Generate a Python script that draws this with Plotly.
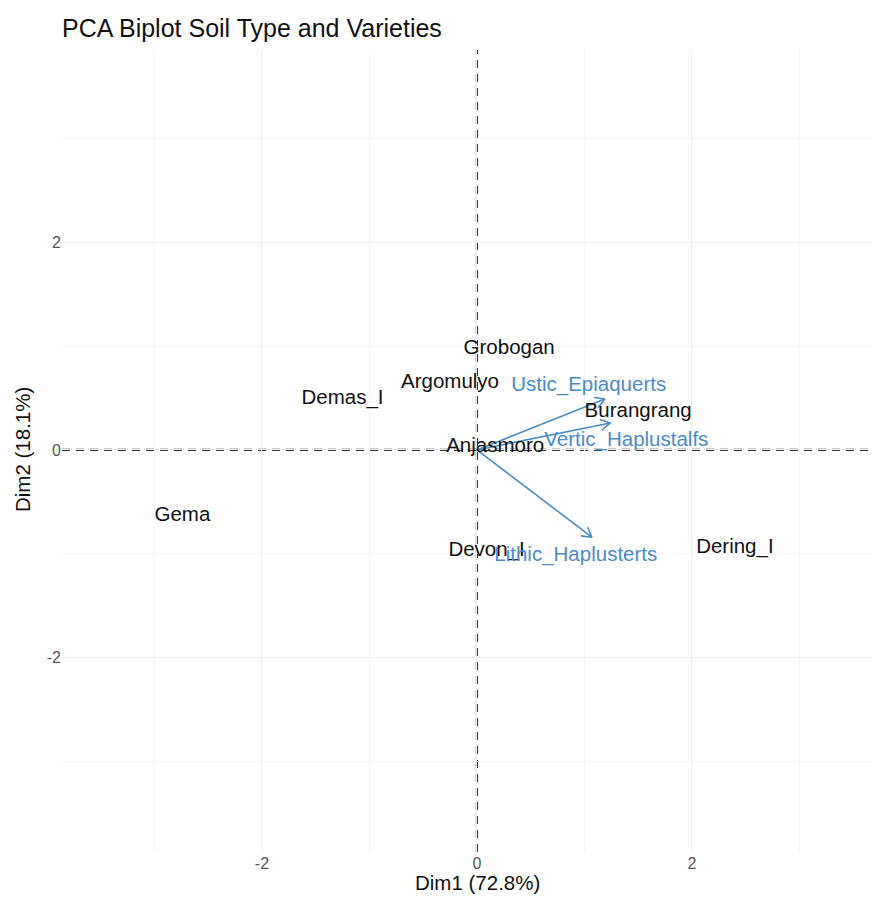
import numpy as np
import plotly.graph_objects as go

# Individuals (varieties)
ind_names = ["Grobogan", "Argomulyo", "Demas_I", "Anjasmoro", "Burangrang",
             "Gema", "Devon_I", "Dering_I"]
ind_x = [0.30, -0.25, -1.25, 0.17, 1.50, -2.74, 0.09, 2.40]
ind_y = [0.97, 0.65, 0.49, 0.03, 0.37, -0.63, -0.97, -0.94]

# Variables (soil types): arrow tips and label positions
var_names = ["Ustic_Epiaquerts", "Vertic_Haplustalfs", "Lithic_Haplusterts"]
var_x = [1.19, 1.24, 1.07]
var_y = [0.49, 0.26, -0.84]
var_lab_x = [1.04, 1.39, 0.92]
var_lab_y = [0.62, 0.09, -1.02]

x_ticks = [-2, 0, 2]
y_ticks = [-2, 0, 2]
x_range = [-3.86, 3.75]
y_range = [-3.87, 3.85]

OFF = 8  # default page body margin
W, H = 881 - OFF, 898 - OFF
ML, MR, MT, MB = 62 - OFF, 1, 50 - OFF, 46
pw, ph = W - ML - MR, H - MT - MB
sx = pw / (x_range[1] - x_range[0])
sy = ph / (y_range[1] - y_range[0])

VCOL = "#4a8cc6"
FONT = "Liberation Sans, Arial, sans-serif"

fig = go.Figure()

# reference dashed lines
fig.add_hline(y=0, line=dict(color="#333333", width=2.2, dash="8px,6px"), layer="below")
fig.add_vline(x=0, line=dict(color="#333333", width=2.2, dash="8px,6px"), layer="below")

# arrows
for xt, yt in zip(var_x, var_y):
    fig.add_trace(go.Scatter(x=[0, xt], y=[0, yt], mode="lines",
                             line=dict(color=VCOL, width=1.6),
                             hoverinfo="skip", showlegend=False))
    # open chevron head, computed in pixel space
    ang = np.arctan2(yt * sy, xt * sx)
    L = 11
    hx, hy = [], []
    for d in (np.pi - np.pi / 6, np.pi + np.pi / 6):
        hx.append(xt + L * np.cos(ang + d) / sx)
        hy.append(yt + L * np.sin(ang + d) / sy)
    fig.add_trace(go.Scatter(x=[hx[0], xt, hx[1]], y=[hy[0], yt, hy[1]], mode="lines",
                             line=dict(color=VCOL, width=1.6),
                             hoverinfo="skip", showlegend=False))

# individual labels
fig.add_trace(go.Scatter(x=ind_x, y=ind_y, mode="text", text=ind_names,
                         textfont=dict(family=FONT, size=20.5, color="#111111"),
                         hoverinfo="text", showlegend=False))
# variable labels
fig.add_trace(go.Scatter(x=var_lab_x, y=var_lab_y, mode="text", text=var_names,
                         textfont=dict(family=FONT, size=20.5, color=VCOL),
                         hoverinfo="text", showlegend=False))

axis_common = dict(
    showline=False, zeroline=False, ticks="", automargin=False,
    gridcolor="#edf1f4", gridwidth=1.2,
    tickfont=dict(family=FONT, size=16, color="#555555"),
    minor=dict(dtick=2, tick0=1, showgrid=True, gridcolor="#f3f6f8", gridwidth=0.8),
)

fig.update_xaxes(range=x_range, tickvals=x_ticks, ticktext=[str(v) for v in x_ticks],
                 **axis_common)
fig.update_yaxes(range=y_range, tickvals=y_ticks, ticktext=[str(v) for v in y_ticks],
                 **axis_common)

# axis titles (positions given in page pixels, converted to paper coords)
fig.add_annotation(text="Dim1 (72.8%)", xref="paper", yref="paper",
                   x=(477 - OFF - ML) / pw, y=-((882 - OFF) - (H - MB)) / ph,
                   xanchor="center", yanchor="middle",
                   showarrow=False, font=dict(family=FONT, size=20.5, color="#111111"))
fig.add_annotation(text="Dim2 (18.1%)", xref="paper", yref="paper", textangle=-90,
                   x=-(ML - (22 - OFF)) / pw, y=(H - MB - (450 - OFF)) / ph,
                   xanchor="center", yanchor="middle",
                   showarrow=False, font=dict(family=FONT, size=20.5, color="#111111"))

fig.update_layout(
    width=W, height=H,
    margin=dict(l=ML, r=MR, t=MT, b=MB, autoexpand=False),
    plot_bgcolor="white", paper_bgcolor="white",
    title=dict(text="PCA Biplot Soil Type and Varieties", x=ML / W, xanchor="left",
               y=1 - (28 - OFF) / H, yanchor="middle",
               font=dict(family=FONT, size=25, color="#111111")),
)

fig.write_html("out.html")
